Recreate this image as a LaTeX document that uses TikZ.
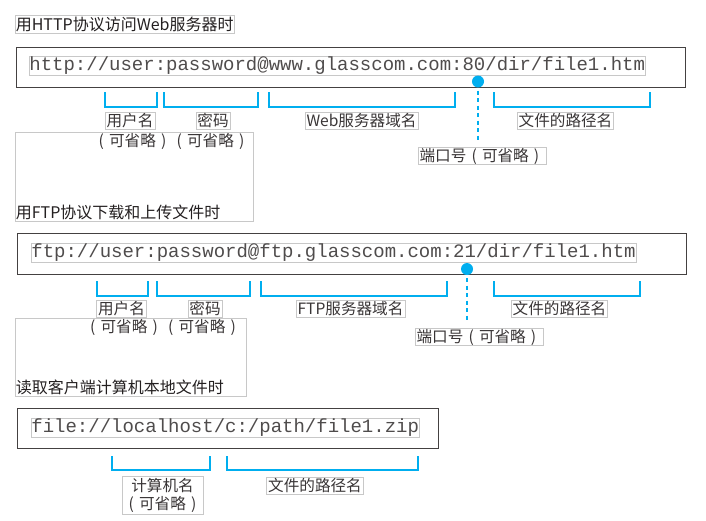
\documentclass[tikz,border=0pt]{standalone}
\usepackage{fontspec}
\setmainfont{Noto Sans CJK SC}
\newfontfamily\urlfont{Liberation Mono}
\usepackage{tikz}
\usetikzlibrary{positioning}
\definecolor{ink}{HTML}{231F20}
\definecolor{cyanline}{HTML}{00AEEF}
\definecolor{frame}{HTML}{C8C8C8}
% full-width cell with a centred bracket
\newcommand\kpar[1]{\makebox[1em]{#1}}
\newcommand\optional{\kpar{(}可省略\kpar{)}}

\begin{document}
\begin{tikzpicture}[x=1pt,y=-1pt,
  heading/.style={draw=frame,line width=0.7pt,anchor=west,inner xsep=0.5pt,inner ysep=1pt,text height=14pt,text depth=2.5pt,font=\fontsize{16}{19}\selectfont,text=ink},
  urlbox/.style={draw=ink!85,line width=1.2pt,anchor=north west,inner sep=0pt},
  urltext/.style={draw=frame,line width=0.7pt,anchor=west,inner xsep=0.5pt,inner ysep=1.5pt,text height=12pt,text depth=3.5pt,font=\urlfont\fontsize{19}{22}\selectfont,text=ink!80},
  tag/.style={draw=frame,line width=0.7pt,inner xsep=1.5pt,inner ysep=1pt,text height=13pt,text depth=2pt,font=\fontsize{15.6}{18}\selectfont,text=ink!90},
  note/.style={tag,draw=none},
  shade/.style={draw=frame,line width=0.7pt},
  brace/.style={draw=cyanline,line width=2.8pt},
  port/.style={draw=cyanline,line width=2.6pt,dash pattern=on 4pt off 3.5pt},
  dot/.style={circle,fill=cyanline,inner sep=0pt,minimum size=12pt}
]
\useasboundingbox (0,0) rectangle (706,520);

% HTTP
\draw[shade] (15,132) rectangle (253,221);
\node[heading] (httptitle) at (15,24.5) {用HTTP协议访问Web服务器时};
\node[urlbox,minimum width=669pt,minimum height=40pt] (httpbox) at (16,47) {};
\node[urltext] (httpurl) at (28.5,66) {http://user:password@www.glasscom.com:80/dir/file1.htm};
\foreach \a/\b in {105/157,164/258,269/455,494/650}
  \draw[brace] (\a,92) |- (\b,107) -- (\b,92);
\node[tag] (httpuser) at (130,120.5) {用户名};
\node[tag] (httppass) at (213,120.5) {密码};
\node[tag] (httphost) at (361.5,120.5) {Web服务器域名};
\node[tag] (httppath) at (565.5,120.5) {文件的路径名};
\node[note] (httpopt) at (171.5,141) {\optional\optional};
\node[tag] (httpportlbl) at (482,155.5) {端口号\optional};
\node[dot] (httpport) at (478,81.5) {};
\draw[port,shorten <=3pt,shorten >=7pt] (httpport) -- (httpport |- httpportlbl.north);

% FTP
\draw[shade] (15,318) rectangle (246,396);
\node[heading,draw=none] (ftptitle) at (15,213) {用FTP协议下载和上传文件时};
\node[urlbox,minimum width=669pt,minimum height=41pt] (ftpbox) at (17,233) {};
\node[urltext] (ftpurl) at (30.5,253) {ftp://user:password@ftp.glasscom.com:21/dir/file1.htm};
\foreach \a/\b in {97/148,157/250,261/447,494/640}
  \draw[brace] (\a,281) |- (\b,296) -- (\b,281);
\node[tag] (ftpuser) at (121.5,308.5) {用户名};
\node[tag] (ftppass) at (205,308.5) {密码};
\node[tag] (ftphost) at (350.5,308.5) {FTP服务器域名};
\node[tag] (ftppath) at (559.5,308.5) {文件的路径名};
\node[note] (ftpopt) at (163,327) {\optional\optional};
\node[tag] (ftpportlbl) at (479,336.5) {端口号\optional};
\node[dot] (ftpport) at (467,269) {};
\draw[port,shorten <=3pt,shorten >=7pt] (ftpport) -- (ftpport |- ftpportlbl.north);

% local file
\node[heading,draw=none] (filetitle) at (15,388) {读取客户端计算机本地文件时};
\node[urlbox,minimum width=421pt,minimum height=40pt] (filebox) at (17,408) {};
\node[urltext] (fileurl) at (30.5,428) {file://localhost/c:/path/file1.zip};
\foreach \a/\b in {112/210,227/418}
  \draw[brace] (\a,456) |- (\b,470) -- (\b,456);
\node[draw=frame,line width=0.7pt,inner xsep=1.5pt,inner ysep=1.5pt,align=center,font=\fontsize{15.6}{18.5}\selectfont,text=ink!90] (filehost) at (162.5,495.5) {计算机名\\\optional};
\node[tag] (filepath) at (315,486) {文件的路径名};
\end{tikzpicture}
\end{document}
